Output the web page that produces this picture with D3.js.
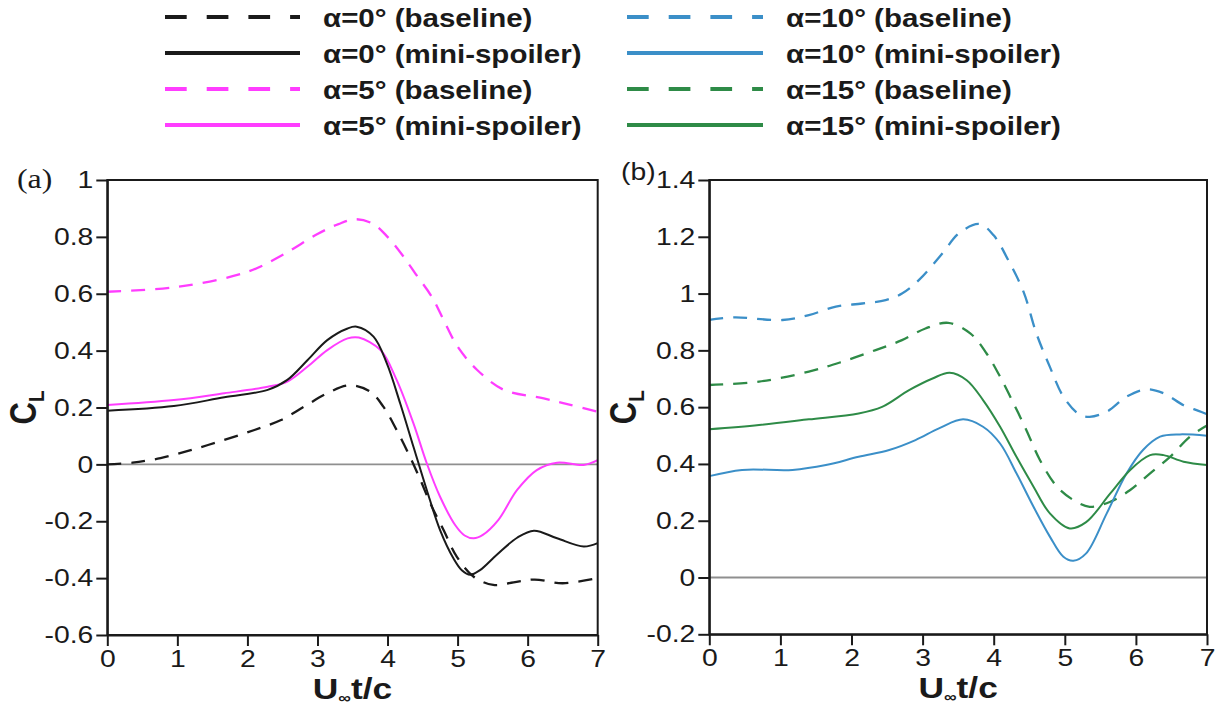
<!DOCTYPE html>
<html>
<head>
<meta charset="utf-8">
<script src="https://cdn.jsdelivr.net/npm/d3@7"></script>
<style>
  body { margin: 0; background: #fff; }
  svg { display: block; }
</style>
</head>
<body>
<svg id="chart" width="1224" height="707"></svg>
<script>
// ---- data: lift coefficient C_L versus convective time U∞t/c ----
// each entry is [U∞t/c, C_L]
const a0Baseline = [[0,0],[0.36,0.006],[0.76,0.022],[1.19,0.05],[1.67,0.086],[2.1,0.121],[2.48,0.156],[2.81,0.203],[3.14,0.25],[3.45,0.278],[3.75,0.256],[3.94,0.203],[4.13,0.121],[4.32,0.027],[4.47,-0.055],[4.61,-0.137],[4.8,-0.231],[4.99,-0.325],[5.23,-0.395],[5.51,-0.424],[5.8,-0.415],[6.1,-0.405],[6.5,-0.418],[7,-0.4]];
const a0Spoiler  = [[0,0.189],[0.95,0.205],[1.67,0.236],[2.29,0.262],[2.57,0.297],[2.86,0.367],[3.14,0.437],[3.43,0.478],[3.56,0.484],[3.8,0.449],[3.99,0.355],[4.18,0.215],[4.37,0.062],[4.56,-0.09],[4.75,-0.231],[4.94,-0.33],[5.06,-0.372],[5.18,-0.388],[5.32,-0.372],[5.56,-0.318],[5.85,-0.258],[6.09,-0.233],[6.42,-0.26],[6.8,-0.289],[7,-0.277]];
const a5Baseline = [[0,0.607],[1,0.624],[2,0.677],[2.5,0.736],[3,0.81],[3.3,0.845],[3.55,0.862],[3.8,0.845],[4.0,0.8],[4.2,0.74],[4.4,0.67],[4.63,0.59],[4.8,0.508],[5.0,0.414],[5.28,0.332],[5.66,0.262],[6.23,0.232],[6.61,0.209],[7,0.185]];
const a5Spoiler  = [[0,0.209],[0.95,0.226],[1.67,0.25],[2.29,0.273],[2.57,0.291],[2.86,0.344],[3.14,0.402],[3.43,0.443],[3.59,0.446],[3.9,0.402],[4.13,0.297],[4.37,0.144],[4.56,0.004],[4.75,-0.114],[4.97,-0.215],[5.1,-0.25],[5.23,-0.26],[5.36,-0.248],[5.58,-0.196],[5.85,-0.09],[6.13,-0.02],[6.42,0.006],[6.8,-0.002],[7,0.015]];

const b10Baseline = [[0,0.907],[0.35,0.916],[1.03,0.907],[1.4,0.924],[1.78,0.954],[2.15,0.965],[2.48,0.977],[2.71,1.0],[2.95,1.048],[3.28,1.142],[3.51,1.212],[3.8,1.245],[4.0,1.205],[4.2,1.12],[4.42,1.006],[4.6,0.86],[4.79,0.742],[4.98,0.637],[5.2,0.575],[5.35,0.566],[5.59,0.584],[5.87,0.637],[6.15,0.663],[6.39,0.649],[6.67,0.607],[6.88,0.587],[7,0.575]];
const b10Spoiler  = [[0,0.357],[0.46,0.379],[1.17,0.379],[1.64,0.396],[2.1,0.425],[2.53,0.449],[2.9,0.484],[3.23,0.525],[3.57,0.557],[3.85,0.531],[4.09,0.472],[4.32,0.367],[4.56,0.249],[4.79,0.144],[4.98,0.073],[5.12,0.059],[5.3,0.085],[5.59,0.226],[5.87,0.367],[6.1,0.449],[6.34,0.496],[6.62,0.504],[7,0.499]];
const b15Baseline = [[0,0.678],[0.7,0.69],[1.4,0.725],[1.87,0.76],[2.34,0.801],[2.71,0.836],[3.04,0.877],[3.36,0.897],[3.67,0.86],[3.9,0.789],[4.09,0.707],[4.28,0.613],[4.46,0.519],[4.65,0.414],[4.89,0.32],[5.12,0.273],[5.35,0.249],[5.64,0.267],[5.92,0.308],[6.2,0.367],[6.48,0.425],[6.76,0.496],[7,0.535]];
const b15Spoiler  = [[0,0.522],[0.7,0.537],[1.4,0.557],[2.1,0.578],[2.43,0.601],[2.81,0.66],[3.14,0.701],[3.38,0.721],[3.62,0.695],[3.85,0.625],[4.09,0.531],[4.32,0.425],[4.56,0.32],[4.79,0.226],[5.07,0.173],[5.3,0.195],[5.64,0.296],[5.92,0.379],[6.2,0.431],[6.39,0.431],[6.67,0.408],[7,0.396]];

// tick values
const xTicks  = [0, 1, 2, 3, 4, 5, 6, 7];
const yTicksA = [-0.6, -0.4, -0.2, 0, 0.2, 0.4, 0.6, 0.8, 1];
const yTicksB = [-0.2, 0, 0.2, 0.4, 0.6, 0.8, 1, 1.2, 1.4];

// legend entries
const legendLabels = ["α=0° (baseline)", "α=0° (mini-spoiler)", "α=5° (baseline)", "α=5° (mini-spoiler)",
                      "α=10° (baseline)", "α=10° (mini-spoiler)", "α=15° (baseline)", "α=15° (mini-spoiler)"];
const legendColors = ["#1a1a1a", "#1a1a1a", "#ff3dff", "#ff3dff", "#3b8fc8", "#3b8fc8", "#2e8b47", "#2e8b47"];
const legendDashed = [true, false, true, false, true, false, true, false];

// ---- drawing ----
const svg = d3.select("#chart");
const SX = 1.18;              // horizontal glyph stretch used for all text
const SANS = "'Liberation Sans', Arial, Helvetica, sans-serif";
const SERIF = "'Liberation Serif', 'Times New Roman', serif";
const INK = "#1a1a1a";

function stretchedText(parent, x, y, str, opts) {
  const g = parent.append("g").attr("transform", `translate(${x},${y}) scale(${SX},1)`);
  return g.append("text")
    .attr("font-family", opts.family || SANS)
    .attr("font-size", opts.size)
    .attr("font-weight", opts.weight || "normal")
    .attr("text-anchor", opts.anchor || "start")
    .attr("fill", INK)
    .text(str);
}

const fmt = d => String(+d.toFixed(1));

function drawPanel(cfg) {
  const x = d3.scaleLinear().domain([0, 7]).range([cfg.left, cfg.right]);
  const y = d3.scaleLinear().domain(cfg.yDomain).range([cfg.bottom, cfg.top]);
  const g = svg.append("g");

  // zero reference line
  g.append("line")
    .attr("x1", x(0)).attr("x2", x(7)).attr("y1", y(0)).attr("y2", y(0))
    .attr("stroke", "#8f8f8f").attr("stroke-width", 1.8);

  // curves
  const line = d3.line().x(d => x(d[0])).y(d => y(d[1])).curve(d3.curveCatmullRom.alpha(0.5));
  cfg.series.forEach(s => {
    g.append("path")
      .datum(s.data)
      .attr("d", line)
      .attr("fill", "none")
      .attr("stroke", s.color)
      .attr("stroke-width", s.dashed ? 2.3 : 2)
      .attr("stroke-dasharray", s.dashed ? "14,10" : null);
  });

  // frame (top and right edges)
  g.append("rect")
    .attr("x", cfg.left).attr("y", cfg.top)
    .attr("width", cfg.right - cfg.left).attr("height", cfg.bottom - cfg.top)
    .attr("fill", "none").attr("stroke", INK).attr("stroke-width", 2);

  // axes
  const tickLen = 11, pad = 3;
  const yAxis = d3.axisLeft(y).tickValues(cfg.yTicks).tickFormat(fmt)
    .tickSize(tickLen).tickPadding(pad).tickSizeOuter(0);
  const yg = g.append("g").attr("transform", `translate(${cfg.left},0)`).call(yAxis);
  const xAxis = d3.axisBottom(x).tickValues(xTicks).tickFormat(d3.format("d"))
    .tickSize(tickLen).tickPadding(4).tickSizeOuter(0);
  const xg = g.append("g").attr("transform", `translate(0,${cfg.bottom})`).call(xAxis);

  [yg, xg].forEach(ax => {
    ax.select(".domain").attr("stroke", INK).attr("stroke-width", 2);
    ax.selectAll(".tick line").attr("stroke", INK).attr("stroke-width", 2);
    ax.selectAll(".tick text").attr("font-family", SANS).attr("fill", INK);
  });
  yg.selectAll(".tick text")
    .attr("font-size", 24)
    .attr("x", -(tickLen + pad) / SX)
    .attr("transform", `scale(${SX},1)`);
  xg.selectAll(".tick text")
    .attr("font-size", 24)
    .attr("transform", `scale(${SX},1)`);

  // y-axis title C_L (rotated)
  const yt = g.append("g")
    .attr("transform", `translate(${cfg.yTitleX},${(cfg.top + cfg.bottom) / 2}) rotate(-90) scale(1,${SX})`)
    .append("text")
    .attr("font-family", SANS).attr("font-weight", "bold").attr("font-size", 31)
    .attr("text-anchor", "middle").attr("fill", INK);
  yt.append("tspan").text("C");
  yt.append("tspan").attr("font-size", 19).attr("dy", 7).text("L");

  // x-axis title U∞t/c
  const xtG = g.append("g")
    .attr("transform", `translate(${(cfg.left + cfg.right) / 2},${cfg.bottom + 64}) scale(${SX},1)`);
  const xt = xtG.append("text")
    .attr("font-family", SANS).attr("font-weight", "bold").attr("font-size", 30)
    .attr("text-anchor", "middle").attr("fill", INK);
  xt.append("tspan").text("U");
  xt.append("tspan").attr("font-size", 15).attr("dy", 4).text("∞");
  xt.append("tspan").attr("dy", -4).text("t/c");

  // panel tag
  stretchedText(g, cfg.tagX, cfg.tagY, cfg.tag, { size: cfg.tagSize, family: cfg.tagFamily });
}

drawPanel({
  left: 107.3, right: 597.7, top: 180, bottom: 635,
  yDomain: [-0.6, 1], yTicks: yTicksA, yTitleX: 36,
  tag: "(a)", tagX: 17, tagY: 188, tagSize: 27, tagFamily: SERIF,
  series: [
    { data: a5Baseline, color: legendColors[2], dashed: true },
    { data: a0Baseline, color: legendColors[0], dashed: true },
    { data: a5Spoiler,  color: legendColors[3], dashed: false },
    { data: a0Spoiler,  color: legendColors[1], dashed: false }
  ]
});

drawPanel({
  left: 709.3, right: 1207, top: 180, bottom: 634.3,
  yDomain: [-0.2, 1.4], yTicks: yTicksB, yTitleX: 636,
  tag: "(b)", tagX: 621, tagY: 180, tagSize: 24, tagFamily: SANS,
  series: [
    { data: b10Baseline, color: legendColors[4], dashed: true },
    { data: b15Baseline, color: legendColors[6], dashed: true },
    { data: b10Spoiler,  color: legendColors[5], dashed: false },
    { data: b15Spoiler,  color: legendColors[7], dashed: false }
  ]
});

// ---- legend: two columns of four rows ----
const legend = svg.append("g");
const colLineX = [[165, 300], [627, 763]];
const colTextX = [323, 786];
const rowY = [17, 53, 89, 125];
legendLabels.forEach((lab, i) => {
  const col = Math.floor(i / 4), row = i % 4;
  const yy = rowY[row];
  legend.append("line")
    .attr("x1", colLineX[col][0]).attr("x2", colLineX[col][1])
    .attr("y1", yy).attr("y2", yy)
    .attr("stroke", legendColors[i]).attr("stroke-width", 4)
    .attr("stroke-dasharray", legendDashed[i] ? "21.7,20" : null);
  stretchedText(legend, colTextX[col], yy + 10, lab, { size: 25, weight: "bold" });
});
</script>
</body>
</html>
